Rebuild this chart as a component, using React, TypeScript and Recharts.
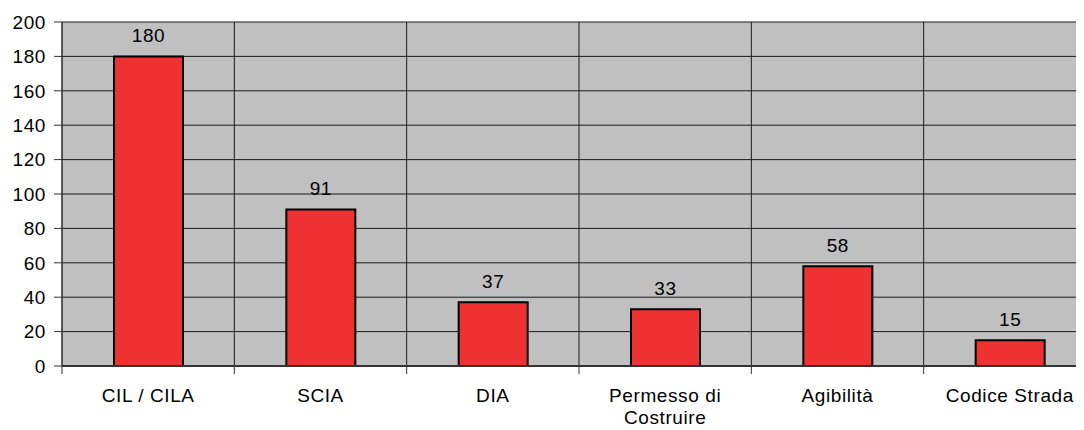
import React from "react";
import { BarChart, Bar, XAxis, YAxis, CartesianGrid, LabelList } from "recharts";

const categories = ["CIL / CILA", "SCIA", "DIA", "Permesso di\nCostruire", "Agibilità", "Codice Strada"];
const values = [180, 91, 37, 33, 58, 15];
const yTicks = [0, 20, 40, 60, 80, 100, 120, 140, 160, 180, 200];

const data = categories.map((c, i) => ({ name: c, value: values[i] }));

const FONT = "'Liberation Sans', Arial, sans-serif";
const FS = 19;
const LS = 0.6;
const CHART_W = 1088;
const Y_AXIS_W = 54;

const CatTick = (props: any) => {
  const { x, y, payload, index } = props;
  const lines = String(payload.value).split("\n");
  const count = categories.length;
  const band = (CHART_W - Y_AXIS_W) / count;
  const ay = y - 8;
  return (
    <g>
      <line x1={x - band / 2} x2={x - band / 2} y1={ay} y2={ay + 8} stroke="#333" strokeWidth={1} />
      {index === count - 1 && (
        <line x1={x + band / 2} x2={x + band / 2} y1={ay} y2={ay + 8} stroke="#333" strokeWidth={1} />
      )}
      <text x={x} y={y} textAnchor="middle" fill="#000" fontSize={FS} fontFamily={FONT} letterSpacing={LS}>
        {lines.map((l: string, i: number) => (
          <tspan key={i} x={x} dy={i === 0 ? 28 : 22}>{l}</tspan>
        ))}
      </text>
    </g>
  );
};

export default function App() {
  const n = categories.length;
  const gridGen = ({ offset }: any) => {
    const arr: number[] = [];
    for (let i = 0; i <= n; i++) arr.push(offset.left + (i * offset.width) / n);
    return arr;
  };
  return (
    <div style={{ width: 1076, height: 422, overflow: "hidden" }}>
      <BarChart
        width={CHART_W}
        height={422}
        data={data}
        margin={{ top: 14, right: 0, left: 0, bottom: 0 }}
      >
        <XAxis
          dataKey="name"
          height={64}
          tickLine={false}
          axisLine={{ stroke: "#333", strokeWidth: 2 }}
          tick={<CatTick />}
          interval={0}
        />
        <YAxis
          domain={[0, 200]}
          ticks={yTicks}
          width={Y_AXIS_W}
          tickSize={8}
          tickMargin={8}
          tick={{ fill: "#000", fontSize: FS, fontFamily: FONT, letterSpacing: LS }}
          tickLine={{ stroke: "#333" }}
          axisLine={{ stroke: "#333", strokeWidth: 1 }}
          interval={0}
        />
        <CartesianGrid
          fill="#C0C0C0"
          fillOpacity={1}
          stroke="#1a1a1a"
          strokeWidth={1}
          vertical
          horizontal
          verticalCoordinatesGenerator={gridGen}
        />
        <Bar
          dataKey="value"
          fill="#EE3131"
          stroke="#000"
          strokeWidth={2}
          barSize={69}
          isAnimationActive={false}
        >
          <LabelList
            dataKey="value"
            position="top"
            offset={14}
            fill="#000"
            fontSize={FS}
            fontFamily={FONT}
            letterSpacing={LS}
          />
        </Bar>
      </BarChart>
    </div>
  );
}
